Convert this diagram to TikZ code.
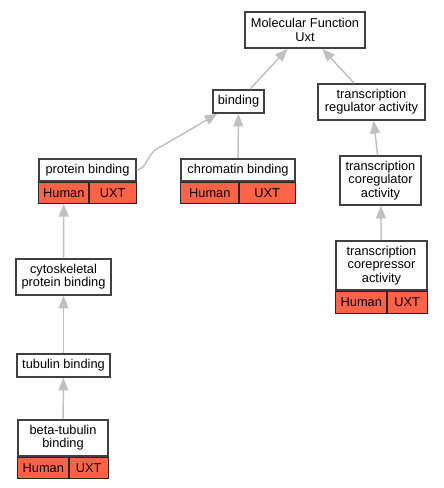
\documentclass[tikz,border=0pt]{standalone}
\usepackage{fontspec}
\setmainfont{Liberation Sans}
\usetikzlibrary{arrows.meta}
\definecolor{edgegray}{RGB}{192,192,192}
\definecolor{boxline}{RGB}{64,64,64}
\definecolor{hitred}{RGB}{255,99,71}
\tikzset{
    term/.style={draw=boxline, line width=1.2pt, fill=white, align=center, inner sep=1pt, font=\fontsize{9.6}{10}\selectfont},
    cell/.style={draw=black!85, line width=0.9pt, fill=hitred, inner sep=0pt, minimum height=15.75pt, font=\fontsize{9.6}{10}\selectfont},
    isa/.style={draw=edgegray, line width=1.1pt, -{Triangle[length=9.5pt,width=7.5pt]}},
}
\begin{document}
\begin{tikzpicture}[x=0.75pt, y=-0.75pt]
        \useasboundingbox (0,0) rectangle (443,488);
        \node[term, minimum width=90pt, minimum height=27pt] (mf) at (305,30) {Molecular Function\\Uxt};
        \node[term, minimum width=38.25pt, minimum height=17.25pt] (bind) at (238.5,101.5) {binding};
        \node[term, minimum width=80.25pt, minimum height=27pt] (tra) at (371.5,102) {transcription\\regulator activity};
        \node[term, minimum width=72.75pt, minimum height=16.5pt] (pb) at (87.5,170) {protein binding};
        \node[cell, minimum width=37.5pt, anchor=north west] (pbh) at (pb.south west) {Human};
        \node[cell, minimum width=35.25pt, anchor=north east] (pbu) at (pb.south east) {UXT};
        \node[term, minimum width=85.5pt, minimum height=16.5pt] (cb) at (238,170) {chromatin binding};
        \node[cell, minimum width=43.5pt, anchor=north west] (cbh) at (cb.south west) {Human};
        \node[cell, minimum width=42pt, anchor=north east] (cbu) at (cb.south east) {UXT};
        \node[term, minimum width=60.75pt, minimum height=36.75pt] (tca) at (380.5,180.5) {transcription\\coregulator\\activity};
        \node[term, minimum width=68.25pt, minimum height=36.75pt] (tco) at (381.5,265.5) {transcription\\corepressor\\activity};
        \node[cell, minimum width=38.25pt, minimum height=16.5pt, anchor=north west] (tcoh) at (tco.south west) {Human};
        \node[cell, minimum width=30pt, minimum height=16.5pt, anchor=north east] (tcou) at (tco.south east) {UXT};
        \node[term, minimum width=71.25pt, minimum height=27pt] (cpb) at (63.5,277) {cytoskeletal\\protein binding};
        \node[term, minimum width=69.75pt, minimum height=17.25pt] (tb) at (63.5,365.5) {tubulin binding};
        \node[term, minimum width=67.5pt, minimum height=27pt] (btb) at (63,438) {beta-tubulin\\binding};
        \node[cell, minimum width=38.25pt, anchor=north west] (btbh) at (btb.south west) {Human};
        \node[cell, minimum width=29.25pt, anchor=north east] (btbu) at (btb.south east) {UXT};
        \draw[isa] (bind) -- (mf);
        \draw[isa] (tra) -- (mf);
        \draw[isa] (pb.east) .. controls (148,169) and (146,152) .. (162,146) -- (bind);
        \draw[isa] (cb) -- (bind);
        \draw[isa] (tca) -- (tra);
        \draw[isa] (tco) -- (tca);
        \draw[isa] (cpb) -- (pbh);
        \draw[isa] (tb) -- (cpb);
        \draw[isa] (btb) -- (tb);
    \end{tikzpicture}
\end{document}
